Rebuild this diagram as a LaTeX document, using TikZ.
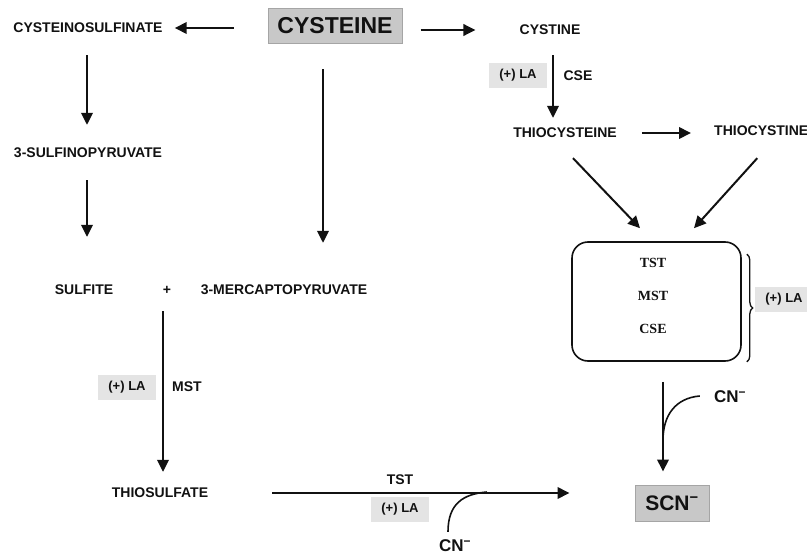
\documentclass[tikz,border=0pt]{standalone}
\usepackage{fontspec}
\setmainfont{Liberation Sans}
\newfontfamily\serifb{Liberation Serif}
\usetikzlibrary{arrows.meta,decorations.pathreplacing}
\definecolor{ink}{HTML}{111111}
\definecolor{boxgray}{HTML}{C8C8C8}
\definecolor{boxedge}{HTML}{A5A5A5}
\definecolor{lagray}{HTML}{E4E4E4}
\tikzset{
  lbl/.style={font=\fontsize{14}{16}\selectfont\bfseries, text=ink, inner sep=0pt},
  cnlbl/.style={font=\fontsize{17}{19}\selectfont\bfseries, text=ink, inner sep=0pt},
  labox/.style={font=\fontsize{13}{15}\selectfont\bfseries, text=ink, fill=lagray, minimum width=58pt, minimum height=25pt, inner sep=0pt},
  bigbox/.style={fill=boxgray, draw=boxedge, line width=1pt, text=ink, inner sep=0pt},
  enztxt/.style={font=\serifb\fontsize{14}{16}\selectfont\bfseries, text=ink, inner sep=0pt},
  arr/.style={draw=ink, line width=2pt, -{Triangle[length=12pt,width=11.5pt]}},
  thin/.style={draw=ink, line width=1.6pt},
}
\begin{document}
\begin{tikzpicture}[x=1pt,y=-1pt]
\useasboundingbox (0,0) rectangle (807,554);
% nodes
\node[bigbox, minimum width=134pt, minimum height=35pt, font=\fontsize{23}{25}\selectfont\bfseries] (cys) at (335,26) {CYSTEINE};
\node[lbl] (csf) at (88,28) {CYSTEINOSULFINATE};
\node[lbl] (cyst) at (550,30) {CYSTINE};
\node[labox] (la1) at (518,75) {(+) LA};
\node[lbl] (cse1) at (578,76) {CSE};
\node[lbl] (tcys) at (565,133) {THIOCYSTEINE};
\node[lbl, anchor=west] (tcyst) at (714,131) {THIOCYSTINE};
\node[lbl] (sfp) at (88,153) {3-SULFINOPYRUVATE};
\node[lbl] (sulf) at (84,290) {SULFITE};
\node[lbl] (plus) at (167,290) {+};
\node[lbl] (mpy) at (284,290) {3-MERCAPTOPYRUVATE};
\node[labox] (la2) at (127,387) {(+) LA};
\node[lbl] (mst) at (187,387) {MST};
\node[lbl] (tsf) at (160,493) {THIOSULFATE};
\node[lbl] (tst) at (400,480) {TST};
\node[labox] (la3) at (400,509) {(+) LA};
\node[cnlbl] (cn1) at (455,546) {CN\textsuperscript{−}};
\node[draw=ink, line width=1.6pt, rounded corners=16pt, minimum width=169pt, minimum height=119pt] (enz) at (656.5,301.5) {};
\node[enztxt] (e1) at (653,263) {TST};
\node[enztxt] (e2) at (653,296) {MST};
\node[enztxt] (e3) at (653,329) {CSE};
\node[labox] (la4) at (784,299) {(+) LA};
\node[cnlbl] (cn2) at (730,397) {CN\textsuperscript{−}};
\node[bigbox, minimum width=74pt, minimum height=36pt, font=\fontsize{21}{23}\selectfont\bfseries] (scn) at (672,503) {SCN\textsuperscript{−}};
% connectors
\draw[arr, shorten <=34pt, shorten >=12pt] (cys.west |- csf.east) -- (csf.east);
\draw[arr, shorten <=18pt, shorten >=44pt] (cys.east |- cyst.west) -- (cyst.west);
\draw[arr, shorten <=20pt, shorten >=10pt] ([xshift=3pt]cyst.south) -- ([xshift=3pt]cyst.south |- tcys.north);
\draw[arr, shorten <=25pt, shorten >=23pt] (tcys.east) -- (tcys.east -| tcyst.west);
\draw[arr] ([shift={(8,20)}]tcys.south) -- ([shift={(-16.5,-13)}]enz.north);
\draw[arr] ([shift={(-4,22)}]tcyst.south) -- ([shift={(37.5,-13)}]enz.north);
\draw[arr, shorten <=25pt, shorten >=42pt] ([xshift=-12pt]cys.south) -- ([xshift=-12pt]cys.south |- mpy.north);
\draw[arr, shorten <=22pt, shorten >=23pt] ([xshift=-1pt]csf.south) -- ([xshift=-1pt]csf.south |- sfp.north);
\draw[arr, shorten <=22pt, shorten >=48pt] ([xshift=-1pt]sfp.south) -- ([xshift=-1pt]sfp.south |- sulf.north);
\draw[arr, shorten <=17pt, shorten >=16pt] ([xshift=-4pt]plus.south) -- ([xshift=-4pt]plus.south |- tsf.north);
\draw[arr, shorten <=64pt, shorten >=65pt] (tsf.east) -- (tsf.east -| scn.west);
\draw[arr, shorten <=20pt, shorten >=13pt] ([xshift=6.5pt]enz.south) -- ([xshift=6.5pt]enz.south |- scn.north);
\coordinate (j1) at (487,492);
\coordinate (j2) at (663,440);
\draw[thin] ([shift={(-7,-8)}]cn1.north) .. controls +(0,-28) and +(-24,2) .. (j1);
\draw[thin] ([shift={(-14,-1)}]cn2.west) .. controls +(-24,2) and +(0,-25) .. (j2);
\draw[ink, line width=1.3pt, decorate, decoration={brace, amplitude=6pt}] ([shift={(5,13)}]enz.north east) -- ([xshift=5pt]enz.south east);
\end{tikzpicture}
\end{document}
